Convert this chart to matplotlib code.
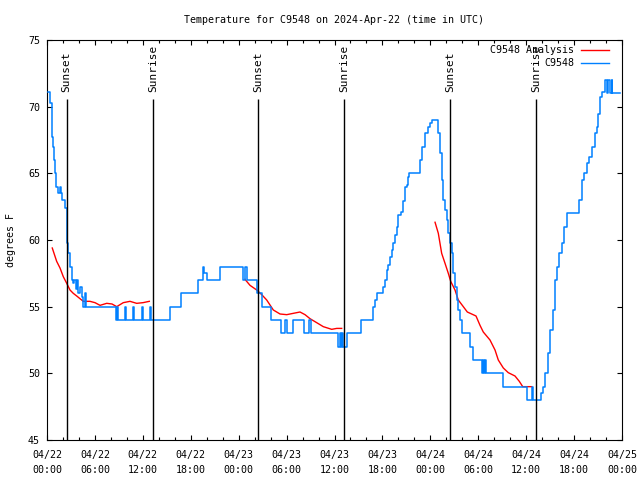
import numpy as np
import matplotlib
matplotlib.use("Agg")
import matplotlib.pyplot as plt
from matplotlib.ticker import MultipleLocator

nan = np.nan

# hours after 2024-04-22 00:00 UTC
obs_hours = [0.16, 0.38, 0.59, 0.66, 0.79, 0.91, 1.0, 1.13, 1.41, 1.63,
             1.72, 1.84, 2.25, 2.47, 2.5, 2.67, 2.88, 3.09, 3.29, 3.44,
             3.57, 3.76, 3.92, 4.13, 4.35, 4.55, 4.76, 4.85, 8.64, 8.77,
             8.85, 9.77, 9.85, 10.77, 10.85, 11.9, 11.98, 12.9, 12.98, 15.4,
             16.74, 18.95, 19.57, 19.72, 20.0, 21.66, 24.5, 24.79, 25.0, 26.26,
             26.89, 28.01, 29.26, 29.8, 30.02, 30.84, 32.18, 32.81, 33.02, 36.4,
             36.69, 36.81, 36.98, 37.1, 37.6, 39.28, 40.78, 41.07, 41.36, 42.11,
             42.32, 42.54, 42.74, 42.95, 43.16, 43.36, 43.58, 43.79, 43.99, 44.29,
             44.54, 44.83, 45.04, 45.24, 45.37, 46.71, 46.92, 47.33, 47.71, 47.96,
             48.17, 49.0, 49.21, 49.42, 49.62, 49.84, 50.05, 50.25, 50.46, 50.68,
             50.88, 51.09, 51.3, 51.5, 51.72, 51.93, 52.97, 53.31, 54.43, 54.6,
             54.72, 54.85, 54.97, 57.14, 60.07, 60.69, 60.89, 61.82, 62.07, 62.36,
             62.77, 62.99, 63.32, 63.61, 63.82, 64.15, 64.45, 64.74, 65.08, 66.65,
             66.95, 67.24, 67.58, 67.91, 68.21, 68.62, 68.91, 69.03, 69.25, 69.46,
             69.87, 70.06, 70.25, 70.5, 70.69, 70.81, 71.75]
obs_temp = [71.1, 70.3, 69.4, 67.7, 67.0, 66.0, 65.0, 64.0, 63.5, 64.0,
            63.5, 63.0, 62.4, 61.3, 59.8, 59.0, 58.0, 57.0, 56.8, 57.0,
            56.3, 57.0, 56.0, 56.5, 55.7, 55.0, 56.0, 55.0, 54.0, 55.0,
            54.0, 55.0, 54.0, 55.0, 54.0, 55.0, 54.0, 55.0, 54.0, 55.0,
            56.0, 57.0, 58.0, 57.5, 57.0, 58.0, 57.0, 58.0, 57.0, 56.0,
            55.0, 54.0, 53.0, 54.0, 53.0, 54.0, 53.0, 54.0, 53.0, 52.0,
            53.0, 52.0, 53.0, 52.0, 53.0, 54.0, 55.0, 55.5, 56.0, 56.5,
            57.0, 57.75, 58.1, 58.75, 59.25, 59.75, 60.4, 61.0, 61.9, 62.1,
            62.9, 64.0, 64.1, 64.75, 65.0, 66.0, 67.0, 68.0, 68.5, 68.75,
            69.0, 68.0, 66.5, 64.5, 63.0, 62.25, 61.5, 60.5, 59.75, 59.0,
            57.5, 56.5, 55.5, 54.75, 54.0, 53.0, 52.0, 51.0, 50.0, 51.0,
            50.0, 51.0, 50.0, 49.0, 48.0, 49.0, 48.0, 48.5, 49.0, 50.0,
            51.5, 53.25, 54.75, 57.0, 58.0, 59.0, 59.75, 61.0, 62.0, 63.0,
            64.5, 65.0, 65.75, 66.25, 67.0, 68.0, 68.5, 69.45, 70.75, 71.1,
            72.0, 71.0, 72.0, 71.0, 72.0, 71.0, 71.0]

ana_hours = [0.66, 1.21, 1.63, 2.04, 2.47, 2.88, 3.29, 3.72, 4.13, 4.55,
             5.38, 6.01, 6.64, 7.48, 8.14, 8.73, 9.55, 10.39, 11.23, 12.02, 12.81, nan,
             24.79, 25.42, 26.26, 26.89, 27.51, 28.34, 29.18, 30.02, 30.43, 31.68,
             32.31, 32.93, 33.77, 34.6, 35.65, 36.28, 36.9, nan,
             48.59, 49.0, 49.42, 49.84, 50.25, 50.55, 51.09, 51.5, 52.13, 52.63,
             53.72, 54.22, 54.63, 55.47, 56.1, 56.51, 57.14, 57.76, 58.6, 59.14,
             59.57, 60.69]
ana_temp = [59.4, 58.4, 57.9, 57.25, 56.75, 56.25, 56.0, 55.8, 55.6, 55.4,
            55.4, 55.3, 55.1, 55.25, 55.2, 55.0, 55.3, 55.4, 55.25, 55.3, 55.4, nan,
            57.05, 56.6, 56.25, 55.9, 55.5, 54.75, 54.45, 54.4, 54.45, 54.6,
            54.4, 54.1, 53.8, 53.5, 53.3, 53.37, 53.37, nan,
            61.33, 60.5, 59.0, 58.25, 57.5, 56.9, 56.25, 55.5, 55.0, 54.6,
            54.3, 53.6, 53.1, 52.5, 51.75, 51.0, 50.4, 50.05, 49.8, 49.4,
            49.0, 49.0]

sun_hours = [2.47, 13.3, 26.45, 37.23, 50.48, 61.23]
sun_labels = ["Sunset", "Sunrise", "Sunset", "Sunrise", "Sunset", "Sunrise"]

tick_hours = [0, 6, 12, 18, 24, 30, 36, 42, 48, 54, 60, 66, 72]
tick_labels = ["04/22\n00:00", "04/22\n06:00", "04/22\n12:00", "04/22\n18:00",
               "04/23\n00:00", "04/23\n06:00", "04/23\n12:00", "04/23\n18:00",
               "04/24\n00:00", "04/24\n06:00", "04/24\n12:00", "04/24\n18:00",
               "04/25\n00:00"]

RED, BLUE = "#ff0000", "#0080ff"
FS = 7.2
plt.rcParams["font.family"] = ["DejaVu Sans Mono"]
plt.rcParams["font.size"] = FS

fig = plt.figure(figsize=(6.4, 4.8), dpi=100)
ax = fig.add_axes([47 / 640, 40 / 480, 575 / 640, 400 / 480])

ax.plot(ana_hours, ana_temp, color=RED, lw=1.0, zorder=3)
ax.plot(obs_hours, obs_temp, color=BLUE, lw=1.1, drawstyle="steps-post", zorder=4)

top = 70.57
ax.vlines(sun_hours, 45, top, color="k", lw=1.0, zorder=5)
for h, s in zip(sun_hours, sun_labels):
    ax.text(h, 71.1, s, rotation=90, ha="center", va="bottom", fontsize=8, zorder=6)

ax.set_xlim(0, 72)
ax.set_ylim(45, 75)
ax.set_xticks(tick_hours)
ax.set_xticklabels(tick_labels)
for lbl in ax.get_xticklabels():
    lbl.set_linespacing(1.6)
ax.xaxis.set_minor_locator(MultipleLocator(2))
ax.yaxis.set_major_locator(MultipleLocator(5))
ax.tick_params(which="both", direction="in", top=True, right=True, width=0.8)
ax.tick_params(which="major", length=3.6)
ax.tick_params(which="minor", length=2.0)
ax.tick_params(axis="x", pad=7)
ax.tick_params(axis="y", pad=5)
for sp in ax.spines.values():
    sp.set_linewidth(0.8)

ax.set_title("Temperature for C9548 on 2024-Apr-22 (time in UTC)", pad=12.5, fontsize=FS)
ax.set_ylabel("degrees F")
ax.yaxis.set_label_coords(-31 / 575, 0.5)

# legend: right-aligned labels with line samples (gnuplot style)
for i, (name, col) in enumerate([("C9548 Analysis", RED), ("C9548", BLUE)]):
    yy = 1 - (10 + 12.7 * i) / 400
    ax.text((574 - 47) / 575, yy, name, ha="right", va="center", transform=ax.transAxes)
    ax.plot([(581 - 47) / 575, (609 - 47) / 575], [yy, yy], color=col, lw=1.0,
            transform=ax.transAxes, clip_on=False)

fig.savefig("out.png", dpi=100)
